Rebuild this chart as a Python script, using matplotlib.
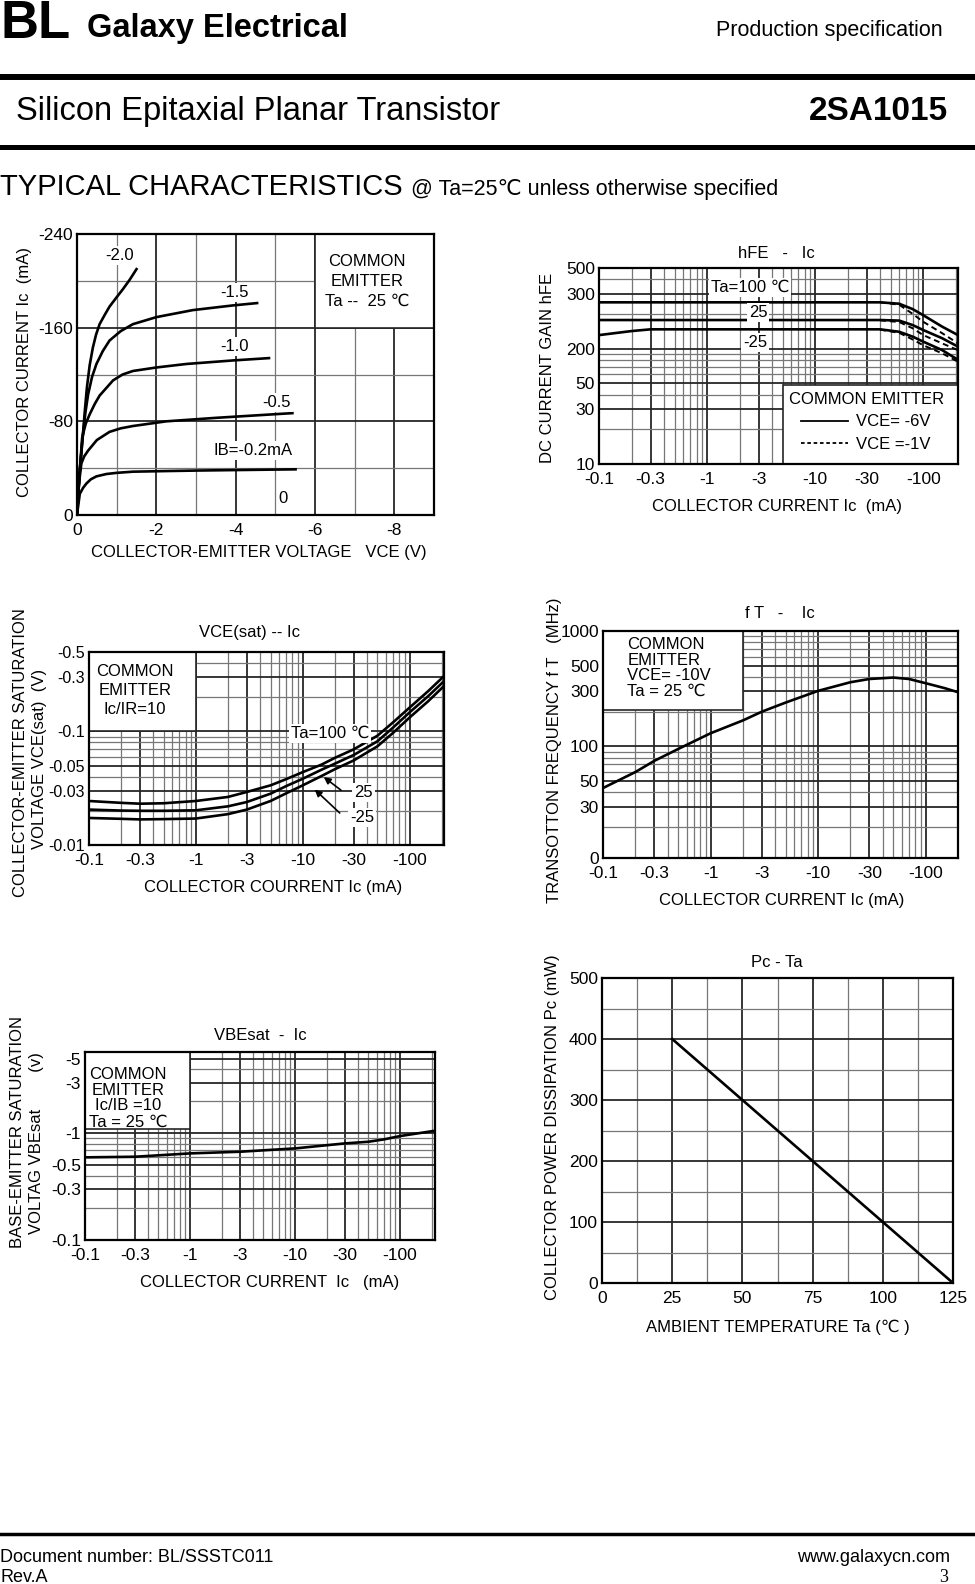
import numpy as np
import matplotlib
matplotlib.use('Agg')
import matplotlib.pyplot as plt
from matplotlib.patches import Rectangle
from matplotlib.lines import Line2D
from matplotlib.ticker import MultipleLocator, LogLocator, NullFormatter

plt.rcParams['font.family'] = ['Liberation Sans', 'DejaVu Sans']

# ---- Ic - Vce output characteristics (values negative, PNP) ----
vce_ticks = [0, -2, -4, -6, -8]
ic_ticks = [0, -80, -160, -240]
vce_ib02 = [0, -0.07, -0.15, -0.24, -0.35, -0.49, -0.74, -1.0, -1.41, -2.2, -3.09, -5.51]
ic_ib02 = [0, -18, -23, -27, -30.5, -33, -35, -36, -37, -37.5, -38, -39]
vce_ib05 = [0, -0.04, -0.11, -0.18, -0.28, -0.50, -0.82, -1.1, -1.41, -2.25, -3.51, -5.43]
ic_ib05 = [0, -24, -44, -50, -55, -64, -71, -74, -76, -80, -83, -87]
vce_ib10 = [0, -0.07, -0.13, -0.22, -0.32, -0.45, -0.57, -0.91, -1.15, -1.41, -2.0, -2.76, -3.93, -4.84]
ic_ib10 = [0, -38, -66, -78, -86, -95, -102, -115, -120, -123, -126, -129, -132, -134]
vce_ib15 = [0, -0.07, -0.15, -0.21, -0.28, -0.38, -0.49, -0.65, -0.82, -1.1, -1.41, -2.0, -2.92, -3.93, -4.54]
ic_ib15 = [0, -38, -69, -87, -103, -118, -129, -140, -149, -157, -163, -169, -175, -179, -181]
vce_ib20 = [0, -0.07, -0.15, -0.20, -0.25, -0.32, -0.40, -0.48, -0.57, -0.70, -0.82, -1.0, -1.16, -1.33, -1.50]
ic_ib20 = [0, -38, -69, -90, -109, -128, -143, -154, -163, -171, -178, -186, -193, -201, -210]

# ---- hFE - Ic ----
ic_log_ticks = [0.1, 0.3, 1, 3, 10, 30, 100]
ic_log_labels = ['-0.1', '-0.3', '-1', '-3', '-10', '-30', '-100']
hfe_ticks = [10, 30, 50, 100, 300, 500]
hfe_labels = ['10', '30', '50', '200', '300', '500']
ic_hfe = [0.1, 0.2, 0.3, 1, 3, 10, 40, 60, 80, 100, 150, 210]
hfe_100 = [252, 252, 252, 252, 252, 252, 252, 245, 220, 195, 155, 131]
hfe_25 = [177, 177, 177, 177, 177, 177, 177, 175, 160, 145, 123, 104]
hfe_m25 = [131, 142, 147, 147, 147, 147, 147, 140, 127, 115, 97, 80]
ic_hfe_1v = [40, 60, 80, 100, 150, 210]
hfe_100_1v = [252, 240, 200, 171, 136, 111]
hfe_25_1v = [176, 170, 150, 131, 111, 97]
hfe_m25_1v = [146, 137, 120, 107, 91, 77]

# ---- VCE(sat) - Ic ----
vsat_ticks = [0.01, 0.03, 0.05, 0.1, 0.3, 0.5]
vsat_labels = ['-0.01', '-0.03', '-0.05', '-0.1', '-0.3', '-0.5']
ic_sat = [0.1, 0.2, 0.3, 0.5, 1, 2, 3, 5, 7, 10, 15, 20, 30, 50, 70, 100, 150, 210]
vsat_100 = [0.0244, 0.0235, 0.0231, 0.0233, 0.0244, 0.0265, 0.0293, 0.0335, 0.038,
            0.0438, 0.051, 0.0585, 0.0695, 0.0916, 0.12, 0.162, 0.227, 0.307]
vsat_25 = [0.0205, 0.0201, 0.0200, 0.0200, 0.0202, 0.0219, 0.0239, 0.0283, 0.033,
           0.0383, 0.046, 0.052, 0.062, 0.0818, 0.108, 0.147, 0.205, 0.277]
vsat_m25 = [0.0173, 0.0170, 0.0168, 0.0169, 0.0171, 0.0187, 0.0205, 0.0244, 0.0285,
            0.0335, 0.0405, 0.0465, 0.0555, 0.0739, 0.097, 0.1325, 0.185, 0.251]

# ---- fT - Ic ----
ft_ticks = [10.8, 30, 50, 100, 300, 500, 1000]
ft_labels = ['0', '30', '50', '100', '300', '500', '1000']
ic_ft = [0.1, 0.2, 0.3, 0.5, 1, 2, 3, 5, 10, 20, 30, 50, 70, 100, 150, 200]
ft = [43.6, 60, 75, 95, 130, 168, 200, 240, 303, 360, 384, 395, 384, 353, 320, 295]

# ---- VBEsat - Ic ----
vbe_ticks = [0.1, 0.3, 0.5, 1, 3, 5]
vbe_labels = ['-0.1', '-0.3', '-0.5', '-1', '-3', '-5']
ic_vbe = [0.1, 0.3, 1, 3, 10, 30, 50, 70, 100, 215]
vbe = [0.596, 0.604, 0.649, 0.673, 0.723, 0.806, 0.835, 0.878, 0.944, 1.059]

# ---- Pc - Ta ----
ta_ticks = [0, 25, 50, 75, 100, 125]
pc_ticks = [0, 100, 200, 300, 400, 500]
ta = [25, 125]
pc = [400, 0]

W, H = 975, 1584
fig = plt.figure(figsize=(W / 100, H / 100), dpi=100)


def panel(left, top, right, bottom):
    return fig.add_axes([left / W, 1 - bottom / H, (right - left) / W, (bottom - top) / H])


def put(x, y, s, **kw):
    fig.text(x / W, 1 - y / H, s, **kw)


def rule(y, lw):
    fig.add_artist(Line2D([0, 1], [1 - y / H] * 2, color='black', lw=lw))


def style(ax):
    ax.set_axisbelow(True)
    ax.grid(which='major', color='#262626', lw=1.3)
    ax.grid(which='minor', color='#777777', lw=0.9)
    ax.tick_params(which='both', length=0, labelsize=12.5)
    ax.tick_params(axis='x', pad=6)
    ax.tick_params(axis='y', pad=3)
    for s in ax.spines.values():
        s.set_linewidth(1.6)


def log_minor(axis):
    axis.set_minor_locator(LogLocator(base=10, subs=np.arange(2, 10), numticks=20))
    axis.set_minor_formatter(NullFormatter())


def blank(ax, x0, y0, x1, y1):
    ax.add_patch(Rectangle((x0, y0), x1 - x0, y1 - y0, facecolor='white',
                           edgecolor='#262626', lw=1.2, zorder=1))


WB = dict(facecolor='white', edgecolor='none', pad=1.5)
LBL = dict(fontsize=12, ha='center', va='center')

# ---------------- page header / footer ----------------
put(0, 38, 'BL', fontsize=38, fontweight='bold', va='baseline')
put(87, 37, 'Galaxy Electrical', fontsize=23.5, fontweight='bold', va='baseline')
put(943, 36, 'Production specification', fontsize=15.5, ha='right', va='baseline')
rule(77, 4.3)
put(16, 120, 'Silicon Epitaxial Planar Transistor', fontsize=23.5, va='baseline')
put(948, 120, '2SA1015', fontsize=24, fontweight='bold', ha='right', va='baseline')
rule(146.5, 3.6)
put(0, 195, 'TYPICAL CHARACTERISTICS', fontsize=21, va='baseline')
put(411, 195, '@ Ta=25℃ unless otherwise specified', fontsize=15.5, va='baseline')

rule(1533.5, 2.5)
put(0, 1562, 'Document number: BL/SSSTC011', fontsize=13, va='baseline')
put(0, 1582, 'Rev.A', fontsize=13, va='baseline')
put(950, 1562, 'www.galaxycn.com', fontsize=13, ha='right', va='baseline')
put(948, 1582, '3', fontsize=13, family='Liberation Serif', ha='right', va='baseline')

# ---------------- 1: Ic - Vce ----------------
ax1 = panel(77, 234, 434, 515)
style(ax1)
ax1.set_xlim(0, -9)
ax1.set_ylim(0, -240)
ax1.set_xticks(vce_ticks, ['0', '-2', '-4', '-6', '-8'])
ax1.set_yticks(ic_ticks, ['0', '-80', '-160', '-240'])
ax1.xaxis.set_minor_locator(MultipleLocator(1))
ax1.yaxis.set_minor_locator(MultipleLocator(40))
blank(ax1, -6, -160, -9, -240)
for vx, iy in [(vce_ib02, ic_ib02), (vce_ib05, ic_ib05), (vce_ib10, ic_ib10),
               (vce_ib15, ic_ib15), (vce_ib20, ic_ib20)]:
    ax1.plot(vx, iy, color='black', lw=1.9, zorder=2, solid_joinstyle='round')
ax1.text(0.812, 0.83, 'COMMON\nEMITTER\nTa --  25 ℃', transform=ax1.transAxes,
         linespacing=1.4, zorder=3, **LBL)
for tx, ty, s in [(-1.08, -222, '-2.0'), (-3.97, -190, '-1.5'), (-3.97, -144, '-1.0'),
                  (-5.03, -96, '-0.5'), (-4.44, -55, 'IB=-0.2mA'), (-5.2, -14, '0')]:
    ax1.text(tx, ty, s, bbox=WB, zorder=3, **LBL)
put(25, 372, 'COLLECTOR CURRENT Ic  (mA)', rotation=90, **LBL)
put(259, 552, 'COLLECTOR-EMITTER VOLTAGE   VCE (V)', **LBL)

# ---------------- 2: hFE - Ic ----------------
ax2 = panel(599, 268, 958, 464)
ax2.set_xscale('log')
ax2.set_yscale('log')
style(ax2)
ax2.set_xlim(0.1, 210)
ax2.set_ylim(10, 500)
ax2.set_xticks(ic_log_ticks, ic_log_labels)
ax2.set_yticks(hfe_ticks, hfe_labels)
log_minor(ax2.xaxis)
log_minor(ax2.yaxis)
blank(ax2, 5, 10, 210, 48)
for y6 in (hfe_100, hfe_25, hfe_m25):
    ax2.plot(ic_hfe, y6, color='black', lw=1.9, zorder=2)
for y1 in (hfe_100_1v, hfe_25_1v, hfe_m25_1v):
    ax2.plot(ic_hfe_1v, y1, color='black', lw=1.4, ls=(0, (3, 2)), zorder=2)
for tx, ty, s in [(2.5, 342, 'Ta=100 ℃'), (2.97, 207, '25'), (2.78, 114, '-25')]:
    ax2.text(tx, ty, s, bbox=WB, zorder=3, **LBL)
hd = [Line2D([], [], color='black', lw=1.3),
      Line2D([], [], color='black', lw=1.3, ls=(0, (2, 1.5)))]
leg = ax2.legend(hd, ['VCE= -6V', 'VCE =-1V'], title='COMMON EMITTER', loc='center',
                 bbox_to_anchor=(0.744, 0.215), frameon=False, fontsize=12,
                 title_fontsize=12, handlelength=2.8, labelspacing=0.45,
                 borderpad=0, handletextpad=0.5)
leg.set_zorder(4)
put(776, 253, 'hFE   -   Ic', **LBL)
put(548, 368, 'DC CURRENT GAIN hFE', rotation=90, **LBL)
put(777, 507, 'COLLECTOR CURRENT Ic  (mA)', **LBL)

# ---------------- 3: VCE(sat) - Ic ----------------
ax3 = panel(89, 652, 444, 845)
ax3.set_xscale('log')
ax3.set_yscale('log')
style(ax3)
ax3.tick_params(axis='y', labelsize=11.5)
ax3.set_xlim(0.1, 210)
ax3.set_ylim(0.01, 0.5)
ax3.set_xticks(ic_log_ticks, ic_log_labels)
ax3.set_yticks(vsat_ticks, vsat_labels)
log_minor(ax3.xaxis)
log_minor(ax3.yaxis)
blank(ax3, 0.1, 0.1, 1.0, 0.5)
for vs in (vsat_100, vsat_25, vsat_m25):
    ax3.plot(ic_sat, vs, color='black', lw=1.9, zorder=2)
ax3.text(0.13, 0.80, 'COMMON\nEMITTER\nIc/IR=10', transform=ax3.transAxes,
         linespacing=1.36, zorder=3, **LBL)
ax3.text(17.9, 0.0968, 'Ta=100 ℃', bbox=WB, zorder=3, **LBL)
ax3.text(37, 0.0287, '25', bbox=WB, zorder=3, **LBL)
ax3.text(36, 0.0176, '-25', bbox=WB, zorder=3, **LBL)
ax3.annotate('', xy=(15.0, 0.041), xytext=(23.9, 0.0294), zorder=3,
             arrowprops=dict(arrowstyle='-|>', color='black', lw=1.2, mutation_scale=10))
ax3.annotate('', xy=(12.4, 0.032), xytext=(23.2, 0.0184), zorder=3,
             arrowprops=dict(arrowstyle='-|>', color='black', lw=1.2, mutation_scale=10))
put(250, 633, 'VCE(sat) -- Ic', **LBL)
put(21, 753, 'COLLECTOR-EMITTER SATURATION', rotation=90, **LBL)
put(39.5, 759, 'VOLTAGE VCE(sat)  (V)', rotation=90, **LBL)
put(273, 887, 'COLLECTOR COURRENT Ic (mA)', **LBL)

# ---------------- 4: fT - Ic ----------------
ax4 = panel(603, 631, 958, 858)
ax4.set_xscale('log')
ax4.set_yscale('log')
style(ax4)
ax4.set_xlim(0.1, 200)
ax4.set_ylim(10.8, 1000)
ax4.set_xticks(ic_log_ticks, ic_log_labels)
ax4.set_yticks(ft_ticks, ft_labels)
log_minor(ax4.xaxis)
log_minor(ax4.yaxis)
blank(ax4, 0.1, 207, 2.0, 1000)
ax4.plot(ic_ft, ft, color='black', lw=1.9, zorder=2)
ax4.text(0.068, 0.975, 'COMMON\nEMITTER\nVCE= -10V\nTa = 25 ℃', transform=ax4.transAxes,
         fontsize=12, ha='left', va='top', linespacing=1.07, zorder=3)
put(780, 614, 'f T   -    Ic', **LBL)
put(555, 750, 'TRANSOTTON FREQUENCY f T   (MHz)', rotation=90, **LBL)
put(782, 900, 'COLLECTOR CURRENT Ic (mA)', **LBL)

# ---------------- 5: VBEsat - Ic ----------------
ax5 = panel(85, 1052, 435, 1240)
ax5.set_xscale('log')
ax5.set_yscale('log')
style(ax5)
ax5.set_xlim(0.1, 215)
ax5.set_ylim(0.1, 5.8)
ax5.set_xticks(ic_log_ticks, ic_log_labels)
ax5.set_yticks(vbe_ticks, vbe_labels)
log_minor(ax5.xaxis)
log_minor(ax5.yaxis)
blank(ax5, 0.1, 1.11, 1.0, 5.8)
ax5.plot(ic_vbe, vbe, color='black', lw=1.9, zorder=2)
ax5.text(0.123, 0.755, 'COMMON\nEMITTER\nIc/IB =10\nTa = 25 ℃', transform=ax5.transAxes,
         linespacing=1.07, zorder=3, **LBL)
put(260, 1036, 'VBEsat  -  Ic', **LBL)
put(18, 1132, 'BASE-EMITTER SATURATION', rotation=90, **LBL)
put(37, 1143, 'VOLTAG VBEsat        (v)', rotation=90, **LBL)
put(270, 1283, 'COLLECTOR CURRENT  Ic   (mA)', **LBL)

# ---------------- 6: Pc - Ta ----------------
ax6 = panel(602, 978, 953, 1283)
style(ax6)
ax6.set_xlim(0, 125)
ax6.set_ylim(0, 500)
ax6.set_xticks(ta_ticks, [str(t) for t in ta_ticks])
ax6.set_yticks(pc_ticks, [str(p) for p in pc_ticks])
ax6.xaxis.set_minor_locator(MultipleLocator(12.5))
ax6.yaxis.set_minor_locator(MultipleLocator(50))
ax6.plot(ta, pc, color='black', lw=1.9, zorder=2)
put(777, 962, 'Pc - Ta', **LBL)
put(553, 1127, 'COLLECTOR POWER DISSIPATION Pc (mW)', rotation=90, **LBL)
put(778, 1327, 'AMBIENT TEMPERATURE Ta (℃ )', **LBL)

fig.savefig('out.png', dpi=100)
